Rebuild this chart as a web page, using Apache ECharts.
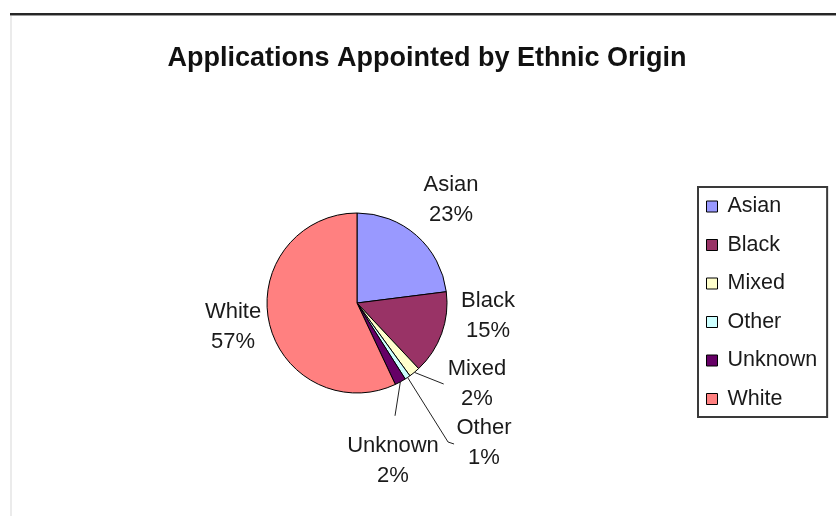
<!DOCTYPE html>
<html>
<head>
<meta charset="utf-8">
<title>Applications Appointed by Ethnic Origin</title>
<script src="https://cdn.jsdelivr.net/npm/echarts@6/dist/echarts.min.js"></script>
<style>
  html, body { margin: 0; padding: 0; background: #ffffff; }
  #chart { width: 836px; height: 516px; }
</style>
</head>
<body>
<div id="chart"></div>
<script>
// Ethnic origin groups and their share of appointed applications (%)
const categories = ['Asian', 'Black', 'Mixed', 'Other', 'Unknown', 'White'];
const shares = [23, 15, 2, 1, 2, 57];
const sliceColors = ['#9999FF', '#993366', '#FFFFCC', '#CCFFFF', '#660066', '#FF8080'];

// Where each two-line slice label sits (centre of the text block)
const labelSpots = {
  Asian:   { x: 451, y: 200 },
  Black:   { x: 488, y: 316 },
  Mixed:   { x: 477, y: 384 },
  Other:   { x: 484, y: 443 },
  Unknown: { x: 393, y: 461 },
  White:   { x: 233, y: 327 }
};
const withGuide = { Black: true, Mixed: true, Other: true, Unknown: true };

const FONT = '"Liberation Sans", Arial, Helvetica, sans-serif';

const chart = echarts.init(document.getElementById('chart'), null, { renderer: 'canvas' });

const pieData = categories.map((name, i) => ({
  name: name,
  value: shares[i],
  itemStyle: { color: sliceColors[i] },
  labelLine: { show: !!withGuide[name] }
}));

// Leader line from the slice edge to the moved label
function guideFor(name, start, cx, cy, w, h) {
  const left = cx - w / 2;
  const top = cy - h / 2;
  switch (name) {
    case 'Black':   return [start, [left - 8, cy], [left, cy]];
    case 'Mixed':   return [start, [left - 2, cy]];
    case 'Other':   return [start, [left - 9, cy - 1], [left - 3, cy + 1]];
    case 'Unknown': return [start, [cx + 2, top - 4]];
    default: return null;
  }
}

const option = {
  backgroundColor: '#ffffff',
  animation: false,
  title: {
    text: 'Applications Appointed by Ethnic Origin',
    left: 427,
    top: 45,
    padding: 0,
    textAlign: 'center',
    textStyle: {
      fontFamily: FONT,
      fontSize: 27,
      fontWeight: 'bold',
      color: '#111111',
      lineHeight: 27
    }
  },
  legend: {
    orient: 'vertical',
    left: 698,
    top: 187,
    padding: [8.5, 10, 7, 8],
    itemGap: 16.5,
    itemWidth: 11,
    itemHeight: 11,
    icon: 'rect',
    borderColor: '#3a3a3a',
    borderWidth: 2,
    backgroundColor: '#ffffff',
    data: categories,
    itemStyle: { borderColor: '#000000', borderWidth: 1 },
    textStyle: {
      fontFamily: FONT,
      fontSize: 21.5,
      color: '#1a1a1a',
      lineHeight: 22,
      padding: [0, 0, 0, 5]
    }
  },
  graphic: [
    { type: 'rect', shape: { x: 10, y: 13, width: 826, height: 2 }, style: { fill: '#262626' }, silent: true },
    { type: 'rect', shape: { x: 10, y: 15, width: 826, height: 1 }, style: { fill: '#9a9a9a' }, silent: true },
    { type: 'rect', shape: { x: 10, y: 16, width: 2, height: 500 }, style: { fill: '#ebebeb' }, silent: true }
  ],
  series: [{
    type: 'pie',
    center: [357, 303],
    radius: 90,
    startAngle: 90,
    clockwise: true,
    avoidLabelOverlap: false,
    itemStyle: { borderColor: '#000000', borderWidth: 1 },
    label: {
      show: true,
      position: 'outside',
      formatter: '{b}\n{c}%',
      fontFamily: FONT,
      fontSize: 22,
      lineHeight: 30,
      color: '#1a1a1a',
      align: 'center'
    },
    labelLine: {
      show: true,
      lineStyle: { color: '#222222', width: 1 }
    },
    labelLayout: function (params) {
      const name = categories[params.dataIndex];
      const spot = labelSpots[name];
      const out = { x: spot.x, y: spot.y, align: 'center', verticalAlign: 'middle' };
      if (withGuide[name] && params.labelLinePoints && params.labelLinePoints.length) {
        const pts = guideFor(name, params.labelLinePoints[0], spot.x, spot.y,
                             params.rect.width, params.rect.height);
        if (pts) out.labelLinePoints = pts;
      }
      return out;
    },
    emphasis: { disabled: true },
    data: pieData
  }]
};

chart.setOption(option);
</script>
</body>
</html>
